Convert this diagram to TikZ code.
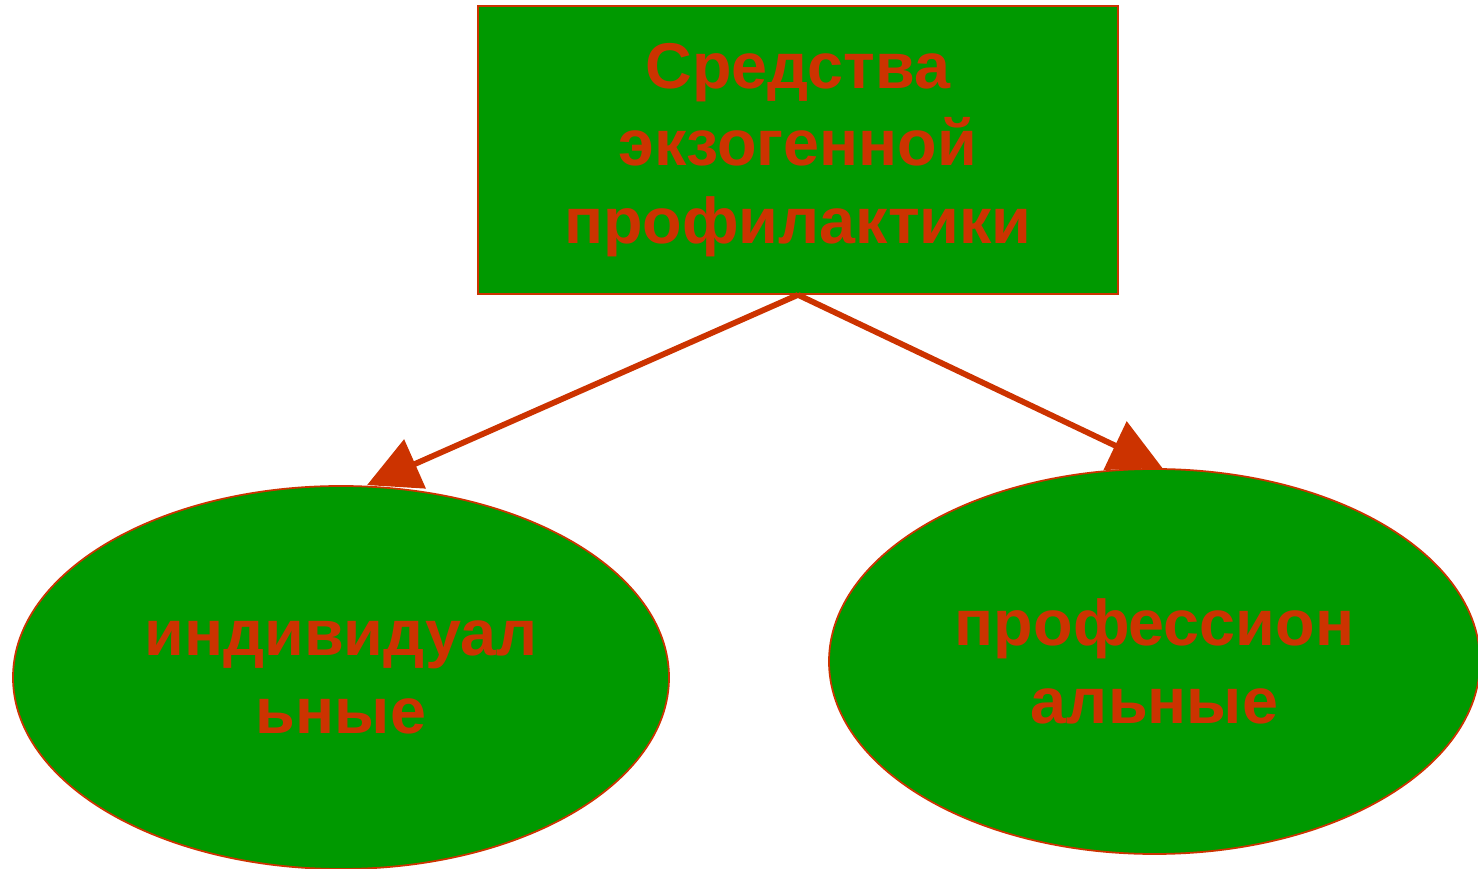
\documentclass[tikz,border=0pt]{standalone}
\usepackage{fontspec}
\setmainfont{Liberation Sans}
\usetikzlibrary{arrows.meta,shapes.geometric}
\definecolor{zelen}{HTML}{009900}
\definecolor{krasn}{HTML}{CC3300}
\begin{document}
\begin{tikzpicture}[
    blok/.style={draw=krasn,line width=1pt,fill=zelen,text=krasn,align=center,
      font=\bfseries\fontsize{36.8pt}{44.3pt}\selectfont},
    strelka/.style={draw=krasn,line width=3.3pt,-{Triangle[length=1.05cm,width=1.05cm]}}]
  \useasboundingbox (0,0) rectangle (29.56,17.38);
  %verh
  \node[blok,minimum width=12.8cm,minimum height=5.76cm] (sredstva) at (15.96,14.38)
    {Средства\\экзогенной\\профилактики};
  %ovaly
  \node[blok,ellipse,minimum width=13.12cm,minimum height=7.66cm,inner sep=0pt] (ind) at (6.82,3.83)
    {индивидуал\\ьные};
  \node[blok,ellipse,minimum width=13.02cm,minimum height=7.7cm,inner sep=0pt] (prof) at (23.09,4.15)
    {профессион\\альные};
  %strelki
  \draw[strelka] (sredstva.south) -- ([xshift=0.52cm]ind.north);
  \draw[strelka] (sredstva.south) -- ([xshift=0.16cm]prof.north);
\end{tikzpicture}
\end{document}
